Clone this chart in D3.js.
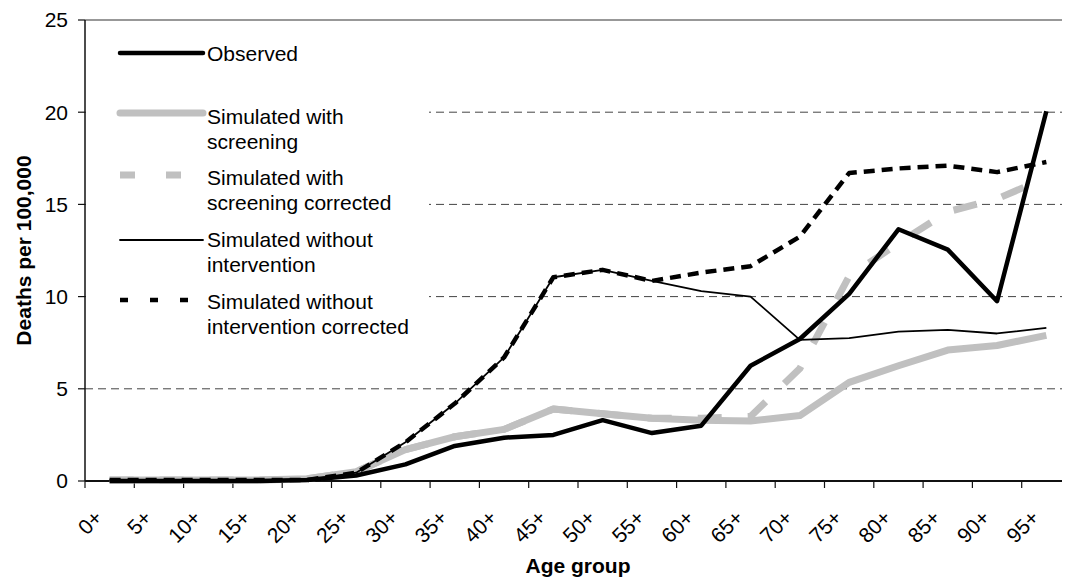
<!DOCTYPE html>
<html>
<head>
    <meta charset="utf-8">
    <title>Deaths per 100,000 by age group</title>
    <style>
        body { margin: 0; background: #fff; }
        svg { display: block; font-family: Arial, "Liberation Sans", Helvetica, sans-serif; }
        .tick-lbl { font-size: 21px; fill: #000; }
        .ax-title { font-size: 21px; font-weight: bold; fill: #000; }
        .grid { stroke: #444; stroke-width: 1; stroke-dasharray: 8,5; }
        .lg-txt { font-size: 21px; fill: #000; }
    </style>
    <script src="https://cdn.jsdelivr.net/npm/d3@7"></script>
</head>
<body>
<svg id="chart"></svg>
<script>
    //data
    var ageGroups = ["0+","5+","10+","15+","20+","25+","30+","35+","40+","45+",
        "50+","55+","60+","65+","70+","75+","80+","85+","90+","95+"];

    var observed = [0, 0, 0, 0, 0.05, 0.3, 0.9, 1.9, 2.35, 2.5,
        3.3, 2.6, 3.0, 6.25, 7.7, 10.15, 13.65, 12.55, 9.75, 20.05];
    var simScreening = [0.05, 0.05, 0.05, 0.05, 0.12, 0.5, 1.7, 2.4, 2.8, 3.9,
        3.65, 3.4, 3.3, 3.25, 3.55, 5.35, 6.25, 7.1, 7.35, 7.9];
    var simScreeningCorr = [0.05, 0.05, 0.05, 0.05, 0.12, 0.5, 1.7, 2.4, 2.8, 3.9,
        3.65, 3.4, 3.4, 3.5, 6.1, 11.1, 12.9, 14.6, 15.3, 16.45];
    var simNoInterv = [0.05, 0.05, 0.05, 0.05, 0.05, 0.45, 2.1, 4.2, 6.7, 11.05,
        11.45, 10.85, 10.3, 10.0, 7.65, 7.75, 8.1, 8.2, 8.0, 8.3];
    var simNoIntervCorr = [0.05, 0.05, 0.05, 0.05, 0.05, 0.45, 2.1, 4.2, 6.7, 11.05,
        11.45, 10.85, 11.3, 11.65, 13.25, 16.7, 16.95, 17.1, 16.75, 17.3];

    var yTicks = [0, 5, 10, 15, 20, 25];

    //note: "top" is a reserved window property, so plot edges get p-prefixed names
    var W = 1066, H = 581,
        pLeft = 85, pRight = 1071, pTop = 20, pBottom = 481, clipRight = 1062;

    var svg = d3.select("#chart").attr("width", W).attr("height", H);

    var x = d3.scaleBand().domain(ageGroups).range([pLeft, pRight]),
        y = d3.scaleLinear().domain([0, 25]).range([pBottom, pTop]);

    //series: drawn in this order, observed on top
    var series = [
        {name:["Simulated with","screening"], vals:simScreening, color:"#c0c0c0", w:7, dash:null, lgDash:null, lgY:113, txtY:117},
        {name:["Simulated with","screening corrected"], vals:simScreeningCorr, color:"#c0c0c0", w:7, dash:"24,26", lgDash:"15,31", lgY:175, txtY:178},
        {name:["Simulated without","intervention"], vals:simNoInterv, color:"#000", w:1.8, dash:null, lgDash:null, lgY:240, txtY:240},
        {name:["Simulated without","intervention corrected"], vals:simNoIntervCorr, color:"#000", w:4.5, dash:"11,7", lgDash:"8,22", lgY:300, txtY:302},
        {name:["Observed"], vals:observed, color:"#000", w:4.5, dash:null, lgDash:null, lgY:53, txtY:54}
    ];

    //gridlines
    svg.append("g").selectAll("line").data(yTicks.filter(function(t){ return t>0 && t<25; })).enter()
        .append("line").attr("class","grid")
        .attr("x1", pLeft).attr("x2", clipRight)
        .attr("y1", function(t){ return y(t); }).attr("y2", function(t){ return y(t); });
    svg.append("line").attr("x1", pLeft).attr("x2", clipRight)
        .attr("y1", y(25)).attr("y2", y(25)).attr("stroke", "#333").attr("stroke-width", 1.2);

    //legend background hides the gridlines behind it
    svg.append("rect").attr("x", pLeft+1).attr("y", y(25)+1).attr("width", 343).attr("height", 330).attr("fill", "#fff");

    //y axis
    svg.append("line").attr("x1", pLeft).attr("x2", pLeft).attr("y1", y(25)).attr("y2", pBottom)
        .attr("stroke", "#111").attr("stroke-width", 1.5);
    var yt = svg.append("g").selectAll("g").data(yTicks).enter().append("g");
    yt.append("line").attr("x1", pLeft-7).attr("x2", pLeft)
        .attr("y1", function(t){ return y(t); }).attr("y2", function(t){ return y(t); })
        .attr("stroke", "#111").attr("stroke-width", 1.2);
    yt.append("text").attr("class","tick-lbl").attr("text-anchor","end")
        .attr("x", pLeft-17).attr("y", function(t){ return y(t); }).attr("dy", "0.35em")
        .text(function(t){ return t; });

    //x axis
    svg.append("line").attr("x1", pLeft).attr("x2", clipRight).attr("y1", pBottom).attr("y2", pBottom)
        .attr("stroke", "#111").attr("stroke-width", 2);
    svg.append("g").selectAll("line").data(ageGroups).enter().append("line")
        .attr("x1", function(c){ return x(c); }).attr("x2", function(c){ return x(c); })
        .attr("y1", pBottom).attr("y2", pBottom+7)
        .attr("stroke", "#111").attr("stroke-width", 1.2);
    svg.append("g").selectAll("text").data(ageGroups).enter().append("text")
        .attr("class","tick-lbl").attr("text-anchor","end")
        .attr("transform", function(c){
            return "translate(" + (x(c) + x.bandwidth()/2 - 6) + "," + (pBottom+38) + ") rotate(-45)";
        })
        .text(function(c){ return c; });

    //axis titles
    svg.append("text").attr("class","ax-title").attr("text-anchor","middle")
        .attr("x", (pLeft+pRight)/2).attr("y", 573).text("Age group");
    svg.append("text").attr("class","ax-title").attr("text-anchor","middle")
        .attr("transform", "translate(31," + ((pTop+pBottom)/2) + ") rotate(-90)")
        .text("Deaths per 100,000");

    //lines
    var line = d3.line()
        .x(function(d, i){ return x(ageGroups[i]) + x.bandwidth()/2; })
        .y(function(d){ return y(d); });

    svg.append("g").selectAll("path").data(series).enter().append("path")
        .attr("d", function(s){ return line(s.vals); })
        .attr("fill", "none")
        .attr("stroke", function(s){ return s.color; })
        .attr("stroke-width", function(s){ return s.w; })
        .attr("stroke-dasharray", function(s){ return s.dash; })
        .attr("stroke-linejoin", "round");

    //legend
    var lg = svg.append("g").selectAll("g").data(series).enter().append("g");
    lg.append("line").attr("x1", 120).attr("x2", 203)
        .attr("y1", function(s){ return s.lgY; }).attr("y2", function(s){ return s.lgY; })
        .attr("stroke", function(s){ return s.color; })
        .attr("stroke-width", function(s){ return s.w; })
        .attr("stroke-dasharray", function(s){ return s.lgDash; })
        .attr("stroke-linecap", function(s){ return s.dash ? "butt" : "round"; });
    lg.append("text").attr("class","lg-txt")
        .attr("x", 207).attr("y", function(s){ return s.txtY; })
        .selectAll("tspan").data(function(s){ return s.name; }).enter().append("tspan")
        .attr("x", 207).attr("dy", function(d, i){ return i===0 ? "0.35em" : "25"; })
        .text(function(d){ return d; });
</script>
</body>
</html>
